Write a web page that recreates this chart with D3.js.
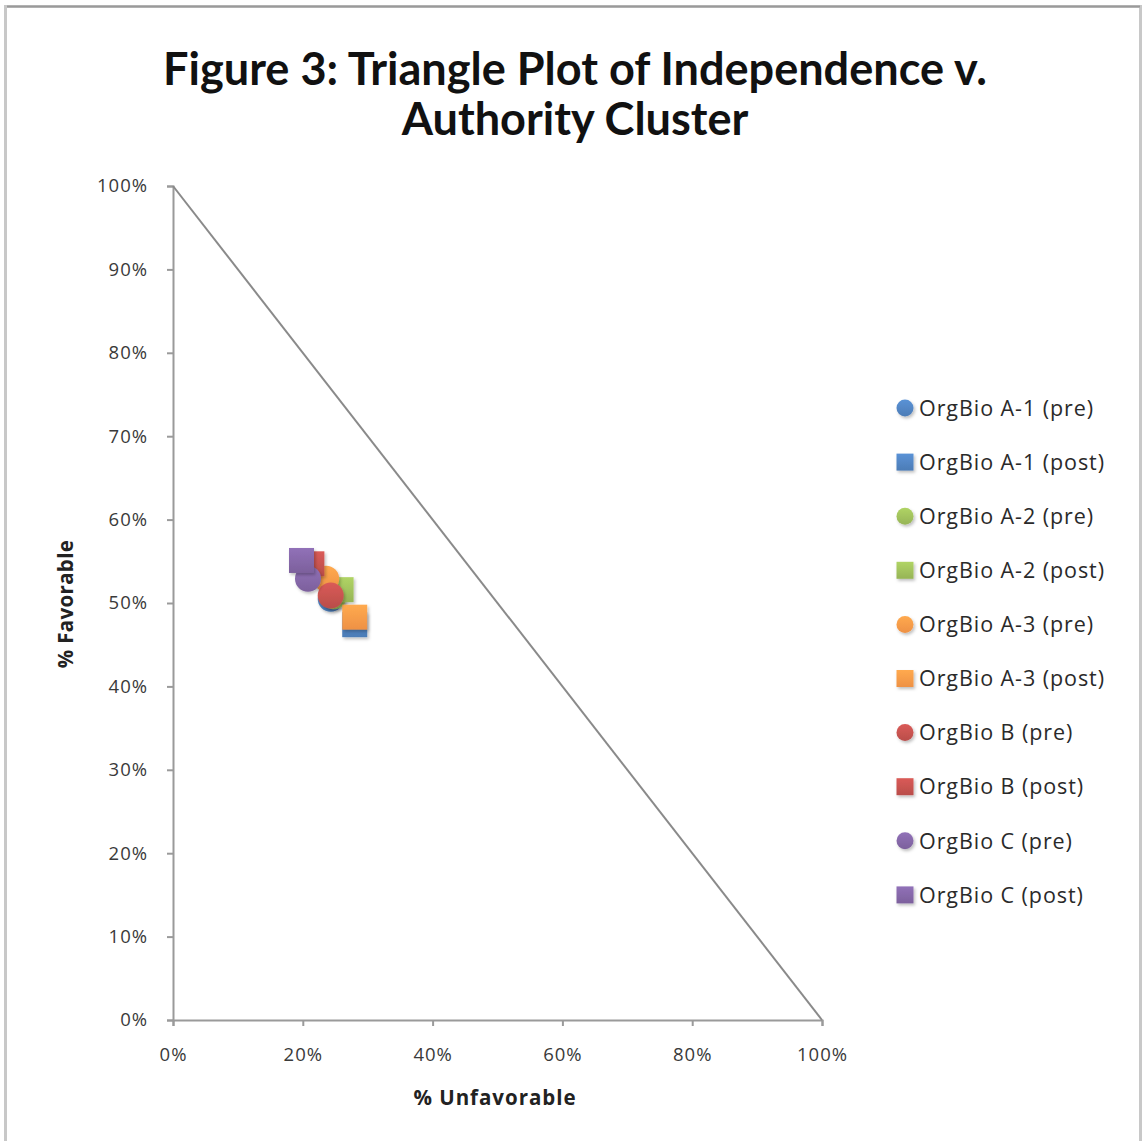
<!DOCTYPE html>
<html>
<head>
<meta charset="utf-8">
<script src="https://cdn.jsdelivr.net/npm/d3@7"></script>
<style>
  html, body { margin: 0; padding: 0; background: #fff; }
  svg { display: block; }
</style>
</head>
<body>
<script>
// Series names, shape and colour per group, and each point as [% unfavorable, % favorable]
const seriesNames = [
  "OrgBio A-1 (pre)", "OrgBio A-1 (post)",
  "OrgBio A-2 (pre)", "OrgBio A-2 (post)",
  "OrgBio A-3 (pre)", "OrgBio A-3 (post)",
  "OrgBio B (pre)", "OrgBio B (post)",
  "OrgBio C (pre)", "OrgBio C (post)"
];
const seriesShapes = ["circle", "square", "circle", "square", "circle", "square", "circle", "square", "circle", "square"];
const seriesColors = ["#4F81BD", "#4F81BD", "#9BBB59", "#9BBB59", "#F79646", "#F79646", "#C0504D", "#C0504D", "#8064A2", "#8064A2"];
const unfavorable = [0.243, 0.280, 0.248, 0.259, 0.236, 0.280, 0.243, 0.214, 0.208, 0.198];
const favorable   = [0.505, 0.474, 0.508, 0.516, 0.529, 0.483, 0.509, 0.547, 0.529, 0.551];
const xTicks = [0, 0.2, 0.4, 0.6, 0.8, 1.0];
const yTicks = [0, 0.1, 0.2, 0.3, 0.4, 0.5, 0.6, 0.7, 0.8, 0.9, 1.0];
const titleLines = ["Figure 3: Triangle Plot of Independence v.", "Authority Cluster"];

const W = 1146, H = 1141;
const svg = d3.select("body").append("svg").attr("width", W).attr("height", H);
const titleFont = "Lato, 'Open Sans', sans-serif";
const font = "'Open Sans', Lato, sans-serif";

// letter spacing that makes a text span the given width
function spreadTo(node, width) {
  const w = node.getComputedTextLength();
  const n = node.textContent.length;
  return (width - w) / Math.max(1, n - 1);
}

// drop shadow for the markers
const defs = svg.append("defs");
const f = defs.append("filter").attr("id", "shadow").attr("x", "-30%").attr("y", "-30%").attr("width", "170%").attr("height", "170%");
f.append("feDropShadow").attr("dx", 1.5).attr("dy", 2).attr("stdDeviation", 1.5)
  .attr("flood-color", "#000").attr("flood-opacity", 0.25);
// soft shading gradients per colour
const uniqColors = Array.from(new Set(seriesColors));
uniqColors.forEach(c => {
  const g = defs.append("linearGradient").attr("id", "g" + c.slice(1))
    .attr("x1", 0).attr("y1", 0).attr("x2", 0).attr("y2", 1);
  g.append("stop").attr("offset", "0%").attr("stop-color", d3.color(c).brighter(0.35));
  g.append("stop").attr("offset", "100%").attr("stop-color", d3.color(c).darker(0.1));
});

// outer frame
svg.append("rect").attr("x", 5.5).attr("y", 6.5).attr("width", 1135).attr("height", 1150)
  .attr("fill", "none").attr("stroke", "#c8c8c8").attr("stroke-width", 3);
svg.append("line").attr("x1", 7).attr("x2", 1140).attr("y1", 6.5).attr("y2", 6.5)
  .attr("stroke", "#9a9a9a").attr("stroke-width", 2);

// title
const titleBase = [85, 135];
const titleSel = svg.append("g").selectAll("text").data(titleLines).join("text")
  .attr("x", 575).attr("y", (d, i) => titleBase[i])
  .attr("text-anchor", "middle").attr("font-family", titleFont).attr("font-weight", 700)
  .attr("font-size", 40).attr("fill", "#111").text(d => d);
{
  const w = titleSel.node().getComputedTextLength();
  titleSel.attr("font-size", 40 * 824 / w);
}

// scales
const x = d3.scaleLinear().domain([0, 1]).range([173, 822]);
const y = d3.scaleLinear().domain([0, 1]).range([1020, 186]);

const pct = d3.format(".0%");
const axisColor = "#9a9a9a";

// x axis
const gx = svg.append("g").attr("transform", `translate(0,${y(0)})`)
  .call(d3.axisBottom(x).tickValues(xTicks).tickFormat(pct).tickSize(6));
// y axis
const gy = svg.append("g").attr("transform", `translate(${x(0)},0)`)
  .call(d3.axisLeft(y).tickValues(yTicks).tickFormat(pct).tickSize(6));
[gx, gy].forEach(g => {
  g.select(".domain").attr("stroke", axisColor).attr("stroke-width", 2);
  g.selectAll(".tick line").attr("stroke", axisColor).attr("stroke-width", 2);
  g.selectAll(".tick text").attr("font-family", font).attr("font-size", 18.5).attr("fill", "#3a3a3a");
});
gx.selectAll(".tick text").attr("dy", "0.35em").attr("y", 35);
gy.selectAll(".tick text").attr("x", -25);
{
  const lbl = gy.selectAll(".tick text").filter(d => d === 1).node();
  const ls = spreadTo(lbl, 50);
  gx.selectAll(".tick text").attr("letter-spacing", ls);
  gy.selectAll(".tick text").attr("letter-spacing", ls);
}

// triangle boundary: favorable + unfavorable = 100%
svg.append("line")
  .attr("x1", x(0)).attr("y1", y(1)).attr("x2", x(1)).attr("y2", y(0))
  .attr("stroke", "#8a8a8a").attr("stroke-width", 2);

// axis titles
const xTitle = svg.append("text").attr("x", 495).attr("y", 1105).attr("text-anchor", "middle")
  .attr("font-family", font).attr("font-weight", 700).attr("font-size", 20.5).attr("fill", "#222")
  .text("% Unfavorable");
const yTitle = svg.append("text").attr("transform", `translate(73,${604}) rotate(-90)`).attr("text-anchor", "middle")
  .attr("font-family", font).attr("font-weight", 700).attr("font-size", 20.5).attr("fill", "#222")
  .text("% Favorable");
xTitle.attr("letter-spacing", spreadTo(xTitle.node(), 162));
yTitle.attr("letter-spacing", spreadTo(yTitle.node(), 128));

// markers
const symCircle = d3.symbol().type(d3.symbolCircle).size(Math.PI * 13 * 13);
const symSquare = d3.symbol().type(d3.symbolSquare).size(25 * 25);
const pts = seriesNames.map((n, i) => ({ i, n, ux: unfavorable[i], fv: favorable[i] }));
svg.append("g").selectAll("path").data(pts).join("path")
  .attr("transform", d => `translate(${x(d.ux)},${y(d.fv)})`)
  .attr("d", d => seriesShapes[d.i] === "circle" ? symCircle() : symSquare())
  .attr("fill", d => `url(#g${seriesColors[d.i].slice(1)})`)
  .attr("filter", "url(#shadow)");

// legend
const legY0 = 408, legStep = 54.1;
const lcircle = d3.symbol().type(d3.symbolCircle).size(Math.PI * 8.5 * 8.5);
const lsquare = d3.symbol().type(d3.symbolSquare).size(17 * 17);
const leg = svg.append("g").selectAll("g").data(pts).join("g")
  .attr("transform", d => `translate(905,${legY0 + d.i * legStep})`);
leg.append("path")
  .attr("d", d => seriesShapes[d.i] === "circle" ? lcircle() : lsquare())
  .attr("fill", d => `url(#g${seriesColors[d.i].slice(1)})`)
  .attr("filter", "url(#shadow)");
const legText = leg.append("text").attr("x", 14).attr("dy", "0.36em")
  .attr("font-family", font).attr("font-size", 21.5).attr("fill", "#2a2a2a")
  .text(d => d.n);
legText.attr("letter-spacing", spreadTo(legText.filter(d => d.i === 1).node(), 185));
</script>
</body>
</html>
